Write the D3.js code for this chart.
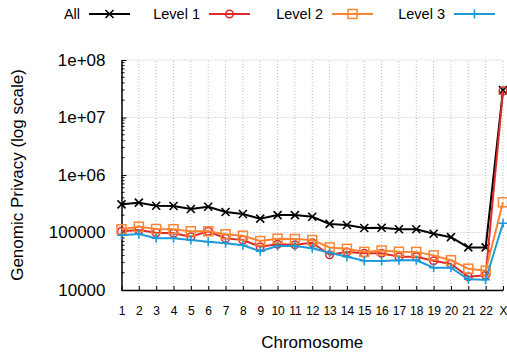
<!DOCTYPE html>
<html>
<head>
<meta charset="utf-8">
<script src="https://cdn.jsdelivr.net/npm/d3@7"></script>
<style>
  body { margin: 0; background: #fff; }
  svg { font-family: "Liberation Sans", Arial, sans-serif; }
</style>
</head>
<body>
<div id="chart"></div>
<script>
// chromosome labels
const chromosomes = ["1","2","3","4","5","6","7","8","9","10","11","12","13","14","15","16","17","18","19","20","21","22","X"];

// values
const allValues = [309000, 330000, 292000, 289000, 256000, 281000, 227000, 210000, 174000, 201000, 201000, 188000,
    141000, 135000, 120000, 121000, 114000, 114000, 95000, 83000, 55000, 55000, 30000000];
const level1Values = [105000, 110000, 99000, 97000, 84500, 105000, 79000, 74000, 56600, 62300, 61400, 66500,
    41100, 45800, 43500, 43500, 37900, 37900, 32300, 28300, 17000, 18000, 29000000];
const level2Values = [113700, 126000, 115000, 114000, 105000, 105000, 93000, 88000, 71000, 78000, 77000, 74000,
    55000, 52000, 46000, 48600, 46300, 46000, 40000, 33000, 23500, 21700, 335000];
const level3Values = [89400, 94200, 79300, 79300, 74000, 69200, 64900, 59900, 47100, 58200, 58200, 53100,
    44500, 37900, 32300, 31900, 32800, 32800, 24400, 24400, 15400, 15100, 144600];

const yTicks = [10000, 100000, 1000000, 10000000, 100000000];
const yTickLabels = ["10000", "100000", "1e+06", "1e+07", "1e+08"];

const seriesNames = ["All", "Level 1", "Level 2", "Level 3"];

let series = [
    {name: seriesNames[0], values: allValues, color: "#000000", marker: "cross"},
    {name: seriesNames[1], values: level1Values, color: "#df2a2a", marker: "circle"},
    {name: seriesNames[2], values: level2Values, color: "#fb8533", marker: "square"},
    {name: seriesNames[3], values: level3Values, color: "#1f9ad6", marker: "plus"}
];

let width = 507, height = 356;
let margin = {top: 60, right: 4, bottom: 66, left: 121.5};

let svg = d3.select("#chart").append("svg")
    .attr("width", width)
    .attr("height", height);

let x = d3.scalePoint()
    .domain(chromosomes)
    .range([margin.left, width - margin.right]);

let y = d3.scaleLog()
    .domain([10000, 100000000])
    .range([height - margin.bottom, margin.top]);

// grid
let grid = svg.append("g").attr("class", "grid");
grid.selectAll(".vgrid")
    .data(chromosomes)
    .enter().append("line")
    .attr("x1", d => x(d)).attr("x2", d => x(d))
    .attr("y1", y(10000)).attr("y2", y(100000000))
    .attr("stroke", "#bbb")
    .attr("stroke-width", 1)
    .attr("stroke-dasharray", "1,2");
grid.selectAll(".hgrid")
    .data(yTicks)
    .enter().append("line")
    .attr("x1", margin.left).attr("x2", width - margin.right)
    .attr("y1", d => y(d)).attr("y2", d => y(d))
    .attr("stroke", "#bbb")
    .attr("stroke-width", 1)
    .attr("stroke-dasharray", "1,2");

// y axis: major + minor ticks drawn inwards
let yAxis = d3.axisRight(y)
    .tickValues(yTicks)
    .tickFormat((d, i) => yTickLabels[i])
    .tickSize(5)
    .tickSizeOuter(0);

let minorTicks = [];
yTicks.slice(0, -1).forEach(t => {
    for (let k = 2; k < 10; k++) minorTicks.push(t * k);
});

let yG = svg.append("g")
    .attr("transform", `translate(${margin.left},0)`)
    .call(yAxis);
yG.select(".domain").attr("stroke", "#000").attr("stroke-width", 1.5);
yG.selectAll(".tick line").attr("stroke", "#000");
yG.selectAll(".tick text")
    .attr("x", -16)
    .attr("text-anchor", "end")
    .style("font-size", "17px")
    .style("font-family", "Liberation Sans, Arial, sans-serif")
    .attr("fill", "#000");

yG.selectAll(".minor")
    .data(minorTicks)
    .enter().append("line")
    .attr("x1", 0).attr("x2", 3)
    .attr("y1", d => y(d)).attr("y2", d => y(d))
    .attr("stroke", "#000");

// x axis
let xAxis = d3.axisTop(x)
    .tickSize(4)
    .tickSizeOuter(0);

let xG = svg.append("g")
    .attr("transform", `translate(0,${height - margin.bottom})`)
    .call(xAxis);
xG.select(".domain").attr("stroke", "#000").attr("stroke-width", 1.5);
xG.selectAll(".tick line").attr("stroke", "#000");
xG.selectAll(".tick text")
    .attr("y", 25)
    .attr("dy", 0)
    .style("font-size", "12px")
    .style("font-family", "Liberation Sans, Arial, sans-serif")
    .attr("fill", "#000");

// axis titles
svg.append("text")
    .attr("x", (margin.left + width - margin.right) / 2)
    .attr("y", 348)
    .attr("text-anchor", "middle")
    .style("font-size", "17px")
    .text("Chromosome");

svg.append("text")
    .attr("transform", `translate(23,${(margin.top + height - margin.bottom) / 2}) rotate(-90)`)
    .attr("text-anchor", "middle")
    .style("font-size", "17px")
    .text("Genomic Privacy (log scale)");

// markers
function drawMarker(g, type, color, cx, cy) {
    if (type === "cross") {
        g.append("path")
            .attr("d", `M${cx - 4},${cy - 4}L${cx + 4},${cy + 4}M${cx - 4},${cy + 4}L${cx + 4},${cy - 4}`)
            .attr("stroke", color).attr("stroke-width", 1.6).attr("fill", "none");
    } else if (type === "circle") {
        g.append("circle")
            .attr("cx", cx).attr("cy", cy).attr("r", 3.8)
            .attr("stroke", color).attr("stroke-width", 1.5).attr("fill", "none");
    } else if (type === "square") {
        g.append("rect")
            .attr("x", cx - 4.5).attr("y", cy - 4.5)
            .attr("width", 9).attr("height", 9)
            .attr("stroke", color).attr("stroke-width", 1.5).attr("fill", "none");
    } else if (type === "plus") {
        g.append("path")
            .attr("d", `M${cx - 4.5},${cy}L${cx + 4.5},${cy}M${cx},${cy - 4.5}L${cx},${cy + 4.5}`)
            .attr("stroke", color).attr("stroke-width", 1.6).attr("fill", "none");
    }
}

let line = d3.line()
    .x((d, i) => x(chromosomes[i]))
    .y(d => y(d));

series.forEach(s => {
    let g = svg.append("g").attr("class", "series");
    g.append("path")
        .datum(s.values)
        .attr("d", line)
        .attr("fill", "none")
        .attr("stroke", s.color)
        .attr("stroke-width", 2);
    s.values.forEach((v, i) => drawMarker(g, s.marker, s.color, x(chromosomes[i]), y(v)));
});

// legend
let legendTextRight = [80, 200, 323, 445];
let legend = svg.append("g").attr("class", "legend");
series.forEach((s, i) => {
    let tx = legendTextRight[i];
    legend.append("text")
        .attr("x", tx)
        .attr("y", 19)
        .attr("text-anchor", "end")
        .style("font-size", "14.5px")
        .text(s.name);
    legend.append("line")
        .attr("x1", tx + 9).attr("x2", tx + 50)
        .attr("y1", 14).attr("y2", 14)
        .attr("stroke", s.color).attr("stroke-width", 2);
    drawMarker(legend, s.marker, s.color, tx + 29.5, 14);
});
</script>
</body>
</html>
